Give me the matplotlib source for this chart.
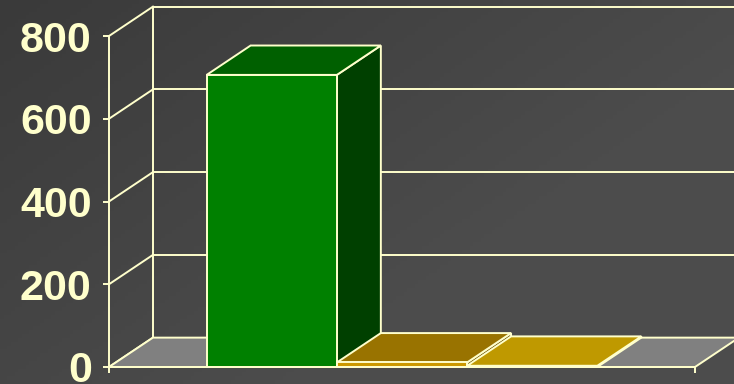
import numpy as np
import matplotlib.pyplot as plt
from matplotlib.patches import Polygon

# values per series (single category)
series = ["A", "B", "C"]
values = [706, 11, 3]
colors = ["#008000", "#cc9900", "#ffcc00"]
yticks = [0, 200, 400, 600, 800]

line_col = "#ffffcc"
floor_col = "#808080"
lw = 1.4

# pseudo-3D depth, in data units
dx = 0.075
dy = 71

fig = plt.figure(figsize=(7.34, 3.84), dpi=100)

# dark gradient background
bg = fig.add_axes([0, 0, 1, 1], zorder=-10)
gx, gy = np.meshgrid(np.linspace(0, 1, 200), np.linspace(0, 1, 100))
shade = np.clip(58 + 16 * gx + 12 * gy, 0, 76) / 255
bg.imshow(np.dstack([shade, shade, shade]), aspect="auto", extent=[0, 1, 1, 0])
bg.set_axis_off()

ax = fig.add_axes([109 / 734, 17 / 384, 586 / 734, 331 / 384])
ax.set_facecolor("none")
ax.set_xlim(0, 1)
ax.set_ylim(0, 800)
right = 734 / 586 * 1.2

# back wall gridlines and the diagonals from the front axis
for v in yticks:
    ax.plot([dx, right], [v + dy, v + dy], color=line_col, lw=lw, clip_on=False, zorder=1)
    ax.plot([0, dx], [v, v + dy], color=line_col, lw=lw, clip_on=False, zorder=1)
ax.plot([dx, dx], [dy, 800 + dy], color=line_col, lw=lw, clip_on=False, zorder=1)

# floor
floor = Polygon([(0, 0), (1, 0), (1 + dx, dy), (dx, dy)], closed=True,
                facecolor=floor_col, edgecolor=line_col, lw=lw, clip_on=False, zorder=2)
ax.add_patch(floor)


def shade_col(c, f):
    r, g, b = plt.matplotlib.colors.to_rgb(c)
    return (r * f, g * f, b * f)


w = 1 / 4.5
x0 = 0.75 * w
for i, (v, c) in enumerate(zip(values, colors)):
    l = x0 + i * w
    r = l + w
    front = [(l, 0), (r, 0), (r, v), (l, v)]
    top = [(l, v), (r, v), (r + dx, v + dy), (l + dx, v + dy)]
    side = [(r, 0), (r + dx, dy), (r + dx, v + dy), (r, v)]
    z = 3 + i
    for pts, f in ((side, 0.5), (top, 0.75), (front, 1.0)):
        ax.add_patch(Polygon(pts, closed=True, facecolor=shade_col(c, f),
                             edgecolor=line_col, lw=lw, clip_on=False, zorder=z))

# front axis
for s in ("top", "right"):
    ax.spines[s].set_visible(False)
for s in ("left", "bottom"):
    ax.spines[s].set_color(line_col)
    ax.spines[s].set_linewidth(lw)
    ax.spines[s].set_zorder(10)
ax.set_yticks(yticks)
ax.set_xticks([0, 1])
ax.set_xticklabels([])
ax.tick_params(axis="both", colors=line_col, length=4.5, width=lw, direction="out")
ax.tick_params(axis="y", pad=8)
for t in ax.get_yticklabels():
    t.set_fontfamily("Liberation Sans")
    t.set_fontweight("bold")
    t.set_fontsize(31)
    t.set_color(line_col)

fig.savefig("out.png", dpi=100)
